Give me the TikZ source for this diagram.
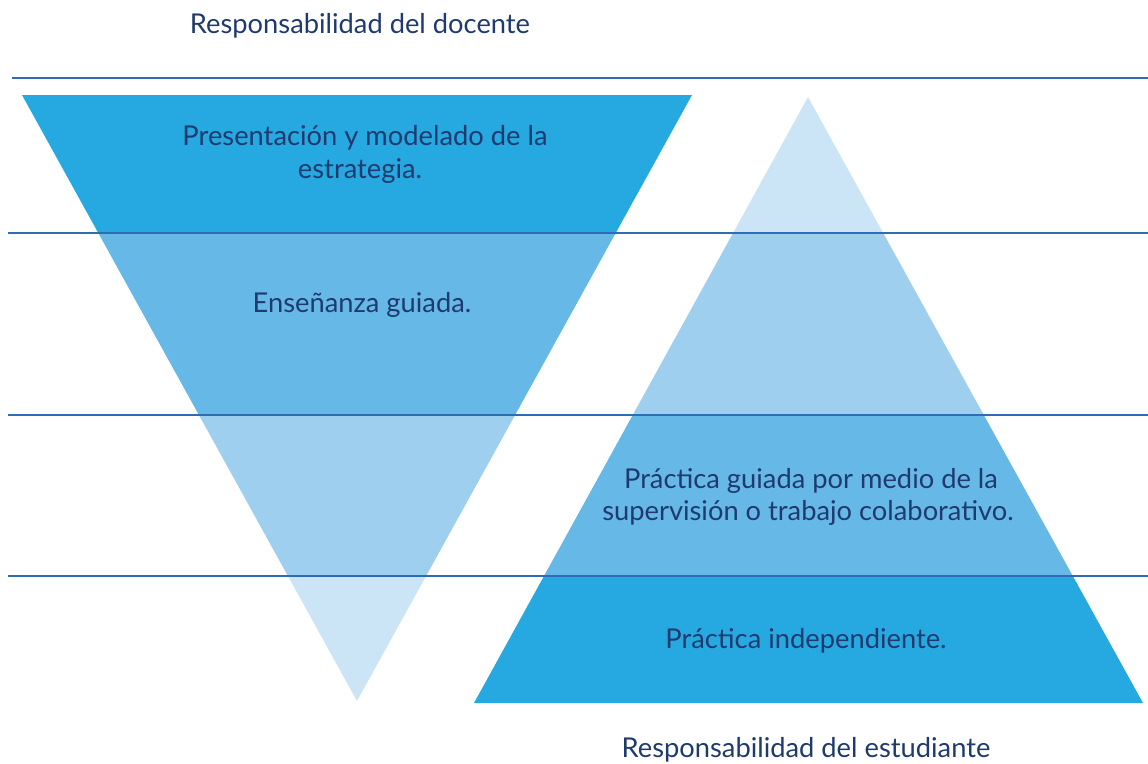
\documentclass[tikz,border=0pt]{standalone}
\usepackage{fontspec}
\setmainfont{Lato}
\definecolor{bandA}{HTML}{26A8E0}
\definecolor{bandB}{HTML}{66B8E6}
\definecolor{bandC}{HTML}{9FCFEE}
\definecolor{bandD}{HTML}{CCE5F6}
\definecolor{rule}{HTML}{2E6DB4}
\definecolor{ink}{HTML}{1F3A6E}
\tikzset{
  lbl/.style={text=ink, font=\fontsize{27.3}{33}\selectfont, anchor=base, inner sep=0pt},
  hrule/.style={draw=rule, line width=1.3pt},
}
\begin{document}
\begin{tikzpicture}[x=1pt,y=-1pt]
\useasboundingbox (0,0) rectangle (1148,763);
% inverted triangle
\begin{scope}
\clip (22,95) -- (692,95) -- (357,701) -- cycle;
\fill[bandA] (0,90) rectangle (1148,233);
\fill[bandB] (0,233) rectangle (1148,415);
\fill[bandC] (0,415) rectangle (1148,576);
\fill[bandD] (0,576) rectangle (1148,710);
\end{scope}
% upright triangle
\begin{scope}
\clip (808,97) -- (1143,703) -- (474,703) -- cycle;
\fill[bandD] (0,90) rectangle (1148,233);
\fill[bandC] (0,233) rectangle (1148,415);
\fill[bandB] (0,415) rectangle (1148,576);
\fill[bandA] (0,576) rectangle (1148,710);
\end{scope}
% rules
\draw[hrule] (12,78) -- (1148,78);
\draw[hrule] (8,233) -- (1148,233);
\draw[hrule] (8,415) -- (1148,415);
\draw[hrule] (8,576) -- (1148,576);
% labels
\node[lbl] (top) at (360,33) {Responsabilidad del docente};
\node[lbl] (p1) at (365,145) {Presentación y modelado de la};
\node[lbl] (p2) at (360,178) {estrategia.};
\node[lbl] (eg) at (362,312) {Enseñanza guiada.};
\node[lbl] (pg1) at (811,488) {Práctica guiada por medio de la};
\node[lbl] (pg2) at (808,520) {supervisión o trabajo colaborativo.};
\node[lbl] (pi) at (806,648) {Práctica independiente.};
\node[lbl] (bot) at (806,757) {Responsabilidad del estudiante};
\end{tikzpicture}
\end{document}
